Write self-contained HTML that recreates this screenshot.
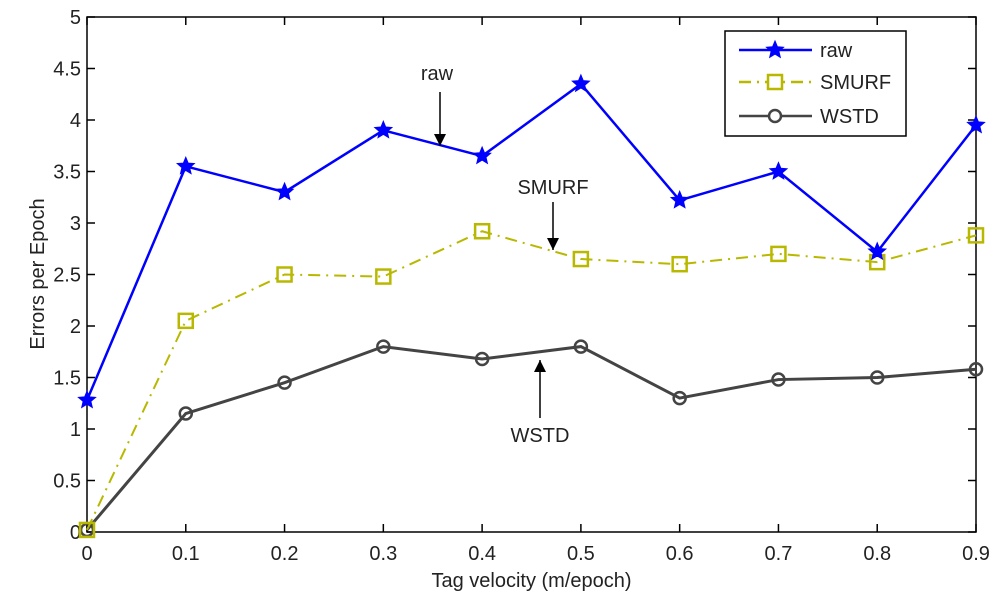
<!DOCTYPE html>
<html><head><meta charset="utf-8"><style>
html,body{margin:0;padding:0;background:#fff;}
svg text{font-family:"Liberation Sans",sans-serif;fill:#222;}
</style></head><body>
<svg id="chart" width="1000" height="605" xmlns="http://www.w3.org/2000/svg">
<g id="g"></g>
</svg>
<script>
const xValues=[0,0.1,0.2,0.3,0.4,0.5,0.6,0.7,0.8,0.9];
const rawValues=[1.28,3.55,3.3,3.9,3.65,4.35,3.22,3.5,2.72,3.95];
const smurfValues=[0.02,2.05,2.5,2.48,2.92,2.65,2.6,2.7,2.62,2.88];
const wstdValues=[0.02,1.15,1.45,1.8,1.68,1.8,1.3,1.48,1.5,1.58];
const xTicks=["0","0.1","0.2","0.3","0.4","0.5","0.6","0.7","0.8","0.9"];
const yTicks=["0","0.5","1","1.5","2","2.5","3","3.5","4","4.5","5"];
const L=87,R=976,T=17,B=532;
const sx=v=>L+(v/0.9)*(R-L);
const sy=v=>B-(v/5)*(B-T);
const NS="http://www.w3.org/2000/svg";
const g=document.getElementById('g');
function mk(tag,attrs,parent){const e=document.createElementNS(NS,tag);for(const k in attrs)e.setAttribute(k,attrs[k]);(parent||g).appendChild(e);return e;}
// axes box
let box=mk('rect',{x:L,y:T,width:R-L,height:B-T,fill:'none',stroke:'#000','stroke-width':1.5});


xTicks.forEach((t,i)=>{const x=sx(i*0.1);
mk('line',{x1:x,x2:x,y1:B,y2:B-8,stroke:'#000','stroke-width':1.5});
mk('line',{x1:x,x2:x,y1:T,y2:T+8,stroke:'#000','stroke-width':1.5});
const tx=mk('text',{x:x,y:B+28,'text-anchor':'middle','font-size':20});tx.textContent=t;

});
yTicks.forEach((t,i)=>{const y=sy(i*0.5);
mk('line',{x1:L,x2:L+8,y1:y,y2:y,stroke:'#000','stroke-width':1.5});
mk('line',{x1:R,x2:R-8,y1:y,y2:y,stroke:'#000','stroke-width':1.5});
const tx=mk('text',{x:L-6,y:y+7,'text-anchor':'end','font-size':20});tx.textContent=t;

});
let xt=mk('text',{x:(L+R)/2,y:587,'text-anchor':'middle','font-size':20});xt.textContent='Tag velocity (m/epoch)';


let yt=mk('text',{x:0,y:0,'text-anchor':'middle','font-size':20,transform:'translate(44,274) rotate(-90)'});yt.textContent='Errors per Epoch';


function star(cx,cy,r,color,parent){let p='';for(let k=0;k<10;k++){const a=-Math.PI/2+k*Math.PI/5;const rr=k%2?r*0.45:r;p+=(k?'L':'M')+(cx+rr*Math.cos(a))+' '+(cy+rr*Math.sin(a));}return mk('path',{d:p+'Z',fill:color,stroke:color,'stroke-width':1},parent);}
function series(vals,color,dash,width,marker,name){
const sg=mk('g',{});


mk('polyline',{points:vals.map((v,i)=>sx(xValues[i])+','+sy(v)).join(' '),fill:'none',stroke:color,'stroke-width':width,'stroke-dasharray':dash},sg);
vals.forEach((v,i)=>{const x=sx(xValues[i]),y=sy(v);let m;
if(marker==='star')m=star(x,y,9,color,sg);
else if(marker==='square')m=mk('rect',{x:x-7,y:y-7,width:14,height:14,fill:'none',stroke:color,'stroke-width':2.5},sg);
else m=mk('circle',{cx:x,cy:y,r:6,fill:'none',stroke:color,'stroke-width':2.5},sg);

});}
series(wstdValues,'#444','',3,'circle','wstd');
series(smurfValues,'#b8b800','12 6 2 6',2,'square','smurf');
series(rawValues,'#0000ff','',2.5,'star','raw');
// annotations
function ann(txt,tx,ty,x,y1,y2,name){const a=mk('g',{});


const t=mk('text',{x:tx,y:ty,'text-anchor':'middle','font-size':20},a);t.textContent=txt;
mk('line',{x1:x,x2:x,y1:y1,y2:y2,stroke:'#000','stroke-width':1.5},a);
const d=y2>y1?1:-1;mk('path',{d:`M${x-6} ${y2-12*d} L${x} ${y2} L${x+6} ${y2-12*d} Z`,fill:'#000'},a);}
ann('raw',437,80,440,92,146,'raw');
ann('SMURF',553,194,553,202,250,'smurf');
ann('WSTD',540,442,540,418,360,'wstd');
// legend
const lg=mk('g',{});


mk('rect',{x:725,y:31,width:181,height:105,fill:'#fff',stroke:'#000','stroke-width':1.5},lg);
const items=[['raw','#0000ff','','star',50],['SMURF','#b8b800','12 6 2 6','square',82],['WSTD','#444','','circle',116]];
items.forEach(([n,c,d,m,y])=>{const e=mk('g',{},lg);


mk('line',{x1:739,x2:812,y1:y,y2:y,stroke:c,'stroke-width':2.5,'stroke-dasharray':d},e);
if(m==='star')star(775,y,9,c,e);else if(m==='square')mk('rect',{x:768,y:y-7,width:14,height:14,fill:'#fff',stroke:c,'stroke-width':2.5},e);else mk('circle',{cx:775,cy:y,r:6,fill:'#fff',stroke:c,'stroke-width':2.5},e);
const t=mk('text',{x:820,y:y+7,'font-size':20},e);t.textContent=n;});
</script>
</body></html>
